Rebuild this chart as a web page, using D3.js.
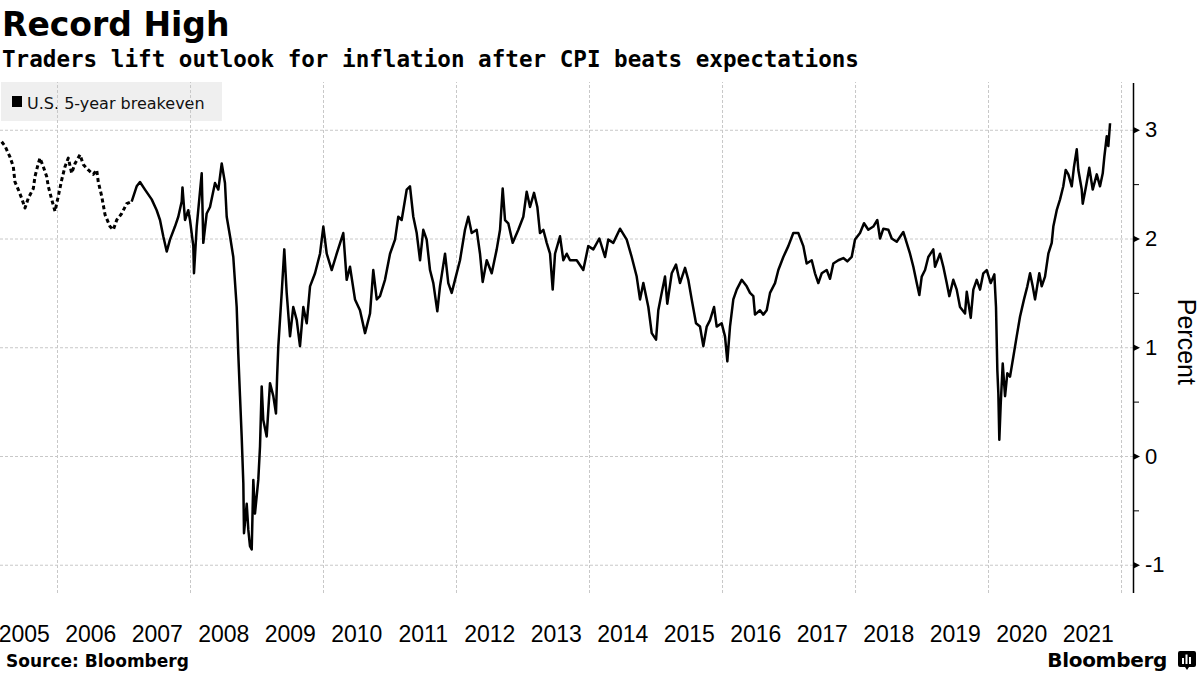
<!DOCTYPE html>
<html>
<head>
<meta charset="utf-8">
<script src="https://cdn.jsdelivr.net/npm/d3@7"></script>
<style>
  html, body { margin: 0; padding: 0; background: #fff; }
  svg { display: block; }
</style>
</head>
<body>
<svg id="chart" width="1200" height="675"></svg>
<script>
// ---------- DATA ----------
const seriesName = "U.S. 5-year breakeven";
// decimal year and percent values
const dates = [
  2005.168,2005.218,2005.293,2005.343,2005.368,2005.418,2005.469,2005.519,2005.568,2005.644,
  2005.669,2005.719,2005.744,2005.794,2005.845,2005.869,2005.920,2005.970,2006.020,2006.071,
  2006.120,2006.170,2006.221,2006.271,2006.346,2006.395,2006.471,2006.546,2006.597,2006.621,
  2006.672,2006.722,2006.797,2006.847,2006.898,2006.973,2007.048,2007.123,
  2007.198,2007.248,2007.323,2007.424,2007.499,2007.549,2007.598,2007.650,2007.699,2007.774,
  2007.824,2007.875,2007.887,2007.925,2007.974,2008.000,2008.050,2008.060,2008.101,2008.176,
  2008.200,2008.251,2008.301,2008.376,2008.426,2008.477,2008.526,2008.552,2008.602,2008.651,
  2008.702,2008.726,2008.752,2008.777,2008.802,2008.812,2008.853,2008.877,2008.902,2008.928,
  2008.952,2008.977,2009.027,2009.053,2009.078,2009.102,2009.153,2009.203,2009.253,2009.293,
  2009.310,2009.328,2009.379,2009.418,2009.454,2009.504,2009.553,2009.605,2009.654,2009.704,
  2009.755,2009.805,2009.880,2009.955,2010.005,2010.056,2010.131,2010.206,2010.305,2010.356,
  2010.406,2010.481,2010.556,2010.632,2010.707,2010.756,2010.808,2010.857,2010.932,2011.008,
  2011.083,2011.132,2011.183,2011.259,2011.308,2011.358,2011.409,2011.459,2011.508,2011.559,
  2011.609,2011.659,2011.719,2011.759,2011.835,2011.884,2011.935,2011.985,2012.060,2012.135,
  2012.185,2012.236,2012.311,2012.361,2012.401,2012.462,2012.537,2012.612,2012.662,2012.702,
  2012.737,2012.786,2012.853,2012.937,2013.012,2013.063,2013.113,2013.173,2013.223,2013.263,
  2013.313,2013.364,2013.414,2013.454,2013.489,2013.564,2013.614,2013.665,2013.714,2013.815,
  2013.914,2013.989,2014.065,2014.155,2014.241,2014.290,2014.365,2014.466,2014.567,2014.642,
  2014.717,2014.767,2014.817,2014.892,2014.943,2015.008,2015.042,2015.093,2015.143,2015.177,
  2015.244,2015.308,2015.368,2015.444,2015.493,2015.544,2015.609,2015.669,2015.719,2015.770,
  2015.820,2015.880,2015.920,2015.995,2016.045,2016.080,2016.120,2016.170,2016.221,2016.296,
  2016.371,2016.421,2016.471,2016.496,2016.571,2016.621,2016.672,2016.722,2016.797,2016.847,
  2016.922,2016.997,2017.072,2017.147,2017.223,2017.273,2017.349,2017.398,2017.448,2017.499,
  2017.574,2017.624,2017.674,2017.749,2017.824,2017.884,2017.950,2018.000,2018.075,2018.135,
  2018.200,2018.275,2018.335,2018.376,2018.426,2018.501,2018.552,2018.627,2018.726,2018.777,
  2018.827,2018.877,2018.928,2018.967,2019.003,2019.053,2019.102,2019.177,2019.203,2019.278,
  2019.328,2019.379,2019.418,2019.478,2019.529,2019.579,2019.654,2019.680,2019.740,2019.779,
  2019.830,2019.880,2019.929,2019.980,2020.041,2020.095,2020.120,2020.140,2020.155,2020.170,
  2020.191,2020.221,2020.256,2020.290,2020.331,2020.380,2020.431,2020.481,2020.541,2020.591,
  2020.632,2020.672,2020.707,2020.771,2020.807,2020.857,2020.907,2020.958,2020.982,2021.033,
  2021.083,2021.132,2021.168,2021.208,2021.259,2021.293,2021.334,2021.358,2021.409,2021.424,
  2021.474,2021.523,2021.574,2021.635,2021.684,2021.725,2021.749,2021.785,2021.809,2021.835
];
const values = [
  2.89,2.85,2.75,2.66,2.52,2.45,2.37,2.28,2.37,2.46,
  2.57,2.69,2.74,2.66,2.57,2.48,2.36,2.25,2.39,2.54,
  2.66,2.74,2.60,2.69,2.77,2.68,2.63,2.59,2.63,2.52,
  2.39,2.22,2.11,2.08,2.17,2.23,2.32,2.34,
  2.48,2.52,2.45,2.36,2.26,2.17,2.02,1.88,1.99,2.11,
  2.20,2.34,2.47,2.17,2.26,2.17,1.93,1.68,2.11,2.60,
  1.96,2.23,2.29,2.51,2.45,2.69,2.51,2.20,2.02,1.83,
  1.37,0.94,0.55,0.18,-0.25,-0.71,-0.44,-0.68,-0.83,-0.86,
  -0.22,-0.53,-0.22,0.09,0.64,0.33,0.18,0.67,0.55,0.39,
  0.73,1.01,1.50,1.90,1.50,1.10,1.37,1.25,1.01,1.37,
  1.22,1.56,1.68,1.86,2.11,1.86,1.71,1.86,2.05,1.62,
  1.74,1.44,1.34,1.13,1.31,1.71,1.44,1.47,1.62,1.86,
  1.99,2.20,2.17,2.45,2.48,2.20,2.05,1.80,2.08,1.99,
  1.71,1.59,1.33,1.56,1.86,1.59,1.50,1.62,1.80,2.08,
  2.20,2.05,2.08,1.86,1.60,1.80,1.68,1.90,2.08,2.46,
  2.17,2.14,1.96,2.08,2.20,2.43,2.29,2.42,2.29,2.05,
  2.08,1.96,1.86,1.53,1.86,2.02,1.80,1.86,1.80,1.80,
  1.71,1.93,1.90,2.00,1.83,1.99,1.96,2.09,1.99,1.83,
  1.65,1.44,1.59,1.37,1.13,1.07,1.34,1.50,1.65,1.40,
  1.68,1.76,1.59,1.73,1.62,1.44,1.22,1.19,1.01,1.19,
  1.25,1.37,1.19,1.22,1.10,0.87,1.19,1.44,1.53,1.62,
  1.56,1.50,1.47,1.30,1.34,1.30,1.34,1.50,1.59,1.71,
  1.83,1.93,2.05,2.05,1.93,1.77,1.80,1.68,1.59,1.68,
  1.71,1.63,1.77,1.80,1.82,1.79,1.83,1.99,2.05,2.14,
  2.08,2.11,2.17,2.00,2.09,2.08,2.00,1.97,2.06,1.96,
  1.86,1.74,1.59,1.48,1.65,1.71,1.83,1.90,1.74,1.86,
  1.74,1.59,1.47,1.62,1.53,1.37,1.31,1.51,1.27,1.53,
  1.62,1.53,1.68,1.71,1.59,1.67,1.37,0.79,0.58,0.15,
  0.48,0.85,0.55,0.76,0.73,0.91,1.10,1.28,1.44,1.56,
  1.68,1.56,1.44,1.68,1.56,1.65,1.86,1.96,2.11,2.26,
  2.36,2.48,2.63,2.59,2.48,2.66,2.82,2.63,2.45,2.32,
  2.48,2.65,2.45,2.59,2.48,2.60,2.75,2.94,2.85,3.06
];
const sparseUntil = 2007.123;   // early data drawn as broken marks
const yearLabels = d3.range(2005, 2022);          // 2005 ... 2021
const gridYears = d3.range(2006, 2023, 2);        // 2006 ... 2022
const yTicks = [-1, 0, 1, 2, 3];
const yMinorTicks = [-0.5, 0.5, 1.5, 2.5];
const xDomain = [2005.143, 2022.18];
const yDomain = [-1.26, 3.43];

const title = "Record High";
const subtitle = "Traders lift outlook for inflation after CPI beats expectations";
const source = "Source: Bloomberg";
const yTitle = "Percent";

// ---------- LAYOUT ----------
const svg = d3.select("#chart");
const plot = { left: 0, right: 1133, top: 83, bottom: 593 };

const x = d3.scaleLinear().domain(xDomain).range([plot.left, plot.right]);
const y = d3.scaleLinear().domain(yDomain).range([plot.bottom, plot.top]);

const data = dates.map((d, i) => ({ t: d, v: values[i] }));

// titles
svg.append("text").attr("x", 2).attr("y", 36)
  .attr("font-family", "DejaVu Sans").attr("font-weight", "bold")
  .attr("font-size", 33).attr("fill", "#000").text(title);
svg.append("text").attr("x", 2).attr("y", 67)
  .attr("font-family", "DejaVu Sans Mono").attr("font-weight", "bold")
  .attr("font-size", 22.6).attr("fill", "#000").text(subtitle);

// legend background
const lg = svg.append("g");
lg.append("rect").attr("x", 1).attr("y", 82).attr("width", 221).attr("height", 39)
  .attr("fill", "#efefef");
lg.append("rect").attr("x", 12).attr("y", 96).attr("width", 10).attr("height", 11).attr("fill", "#000");
lg.append("text").attr("x", 27).attr("y", 109)
  .attr("font-family", "DejaVu Sans").attr("font-size", 16).attr("fill", "#111")
  .text(seriesName);

// horizontal grid
svg.append("g")
  .attr("transform", `translate(${plot.right},0)`)
  .call(d3.axisLeft(y).tickValues(yTicks).tickSize(plot.right - plot.left).tickFormat(""))
  .call(g => g.select(".domain").remove())
  .call(g => g.selectAll("line").attr("stroke", "#c8c8c8").attr("stroke-dasharray", "3,2"));

// vertical grid
svg.append("g")
  .attr("transform", `translate(0,${plot.bottom})`)
  .call(d3.axisTop(x).tickValues(gridYears).tickSize(plot.bottom - plot.top + 1).tickFormat(""))
  .call(g => g.select(".domain").remove())
  .call(g => g.selectAll("line").attr("stroke", "#c8c8c8").attr("stroke-dasharray", "3,2"));

// series line
const line = d3.line().x(d => x(d.t)).y(d => y(d.v));
const early = data.filter(d => d.t <= sparseUntil);
const late = data.filter(d => d.t >= sparseUntil);
svg.append("path").datum(early).attr("d", line)
  .attr("fill", "none").attr("stroke", "#000").attr("stroke-width", 3)
  .attr("stroke-dasharray", "4,3").attr("stroke-linejoin", "round");
svg.append("path").datum(late).attr("d", line)
  .attr("fill", "none").attr("stroke", "#000").attr("stroke-width", 2.5)
  .attr("stroke-linejoin", "round");

// right axis
const ya = svg.append("g").attr("transform", `translate(${plot.right},0)`)
  .call(d3.axisRight(y).tickValues(yTicks).tickSize(0).tickPadding(12)
    .tickFormat(d => d < 0 ? "-" + Math.abs(d) : d));
ya.select(".domain").attr("d", `M0.5,${plot.top}V${plot.bottom}`).attr("stroke", "#000").attr("stroke-width", 1.5);
ya.selectAll("text").attr("font-family", "Liberation Sans").attr("font-size", 22).attr("fill", "#000");
ya.selectAll(".tick").append("path").attr("d", "M0,-3.5L7,0L0,3.5Z").attr("fill", "#000");
svg.append("g").attr("transform", `translate(${plot.right},0)`)
  .call(d3.axisRight(y).tickValues(yMinorTicks).tickSize(6).tickFormat(""))
  .call(g => g.select(".domain").remove())
  .call(g => g.selectAll("line").attr("stroke", "#000"));

svg.append("text")
  .attr("transform", `translate(1178,${y(1.05)}) rotate(90)`)
  .attr("text-anchor", "middle")
  .attr("font-family", "Liberation Sans").attr("font-size", 25).attr("fill", "#000")
  .text(yTitle);

// x axis labels
const xa = svg.append("g").attr("transform", `translate(0,${plot.bottom})`)
  .call(d3.axisBottom(x).tickValues(yearLabels.map(d => d + 0.5)).tickSize(0).tickPadding(33)
    .tickFormat(d => String(Math.floor(d))));
xa.select(".domain").remove();
xa.selectAll("text").attr("font-family", "Liberation Sans").attr("font-size", 23).attr("fill", "#000");

// footer
svg.append("text").attr("x", 6).attr("y", 667)
  .attr("font-family", "DejaVu Sans").attr("font-weight", "bold")
  .attr("font-size", 17).attr("fill", "#000").text(source);
svg.append("text").attr("x", 1167).attr("y", 667).attr("text-anchor", "end")
  .attr("font-family", "DejaVu Sans").attr("font-weight", "bold")
  .attr("font-size", 20).attr("letter-spacing", -0.3).attr("fill", "#000").text("Bloomberg");
const logo = svg.append("g").attr("transform", "translate(1178,651)");
logo.append("path").attr("d", "M2,0H16Q18,0 18,2V14Q18,16 16,16H11L9,19L7,16H2Q0,16 0,14V2Q0,0 2,0Z").attr("fill", "#000");
logo.append("rect").attr("x", 4).attr("y", 7).attr("width", 2).attr("height", 6).attr("fill", "#fff");
logo.append("rect").attr("x", 7.5).attr("y", 3.5).attr("width", 2).attr("height", 9.5).attr("fill", "#fff");
logo.append("rect").attr("x", 11).attr("y", 6).attr("width", 2).attr("height", 7).attr("fill", "#fff");
</script>
</body>
</html>
